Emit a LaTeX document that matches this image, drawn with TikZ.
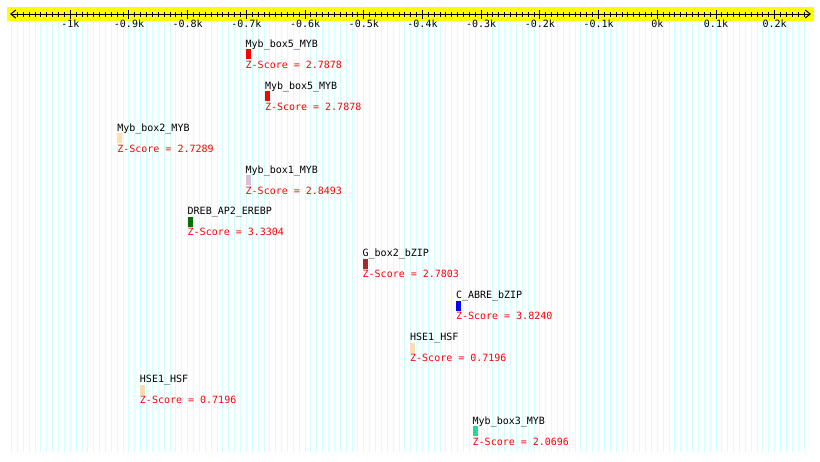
\documentclass[tikz,border=0pt]{standalone}
\usepackage{fontspec}
\setmonofont{DejaVu Sans Mono}
\usetikzlibrary{arrows.meta}
\definecolor{rulerbg}{HTML}{FFFF00}
\definecolor{gridcyan}{HTML}{D2FFFF}
\definecolor{mybred}{HTML}{FF0000}
\definecolor{mybpeach}{HTML}{FFDFAA}
\definecolor{mybthistle}{HTML}{D8C0D8}
\definecolor{drebgreen}{HTML}{007000}
\definecolor{gboxbrown}{HTML}{A52A2A}
\definecolor{abreblue}{HTML}{0000FF}
\definecolor{hsewheat}{HTML}{F5DEB3}
\definecolor{mybmint}{HTML}{20E090}
\tikzset{%
	motif/.style={inner sep=0pt,outer sep=0pt,shape=rectangle,minimum width=5pt,minimum height=10pt,anchor=north west},
	motifname/.style={inner sep=0pt,outer sep=0pt,anchor=base west,font=\ttfamily\fontsize{10}{12}\selectfont},
	zscore/.style={motifname,text=red},
	ticklabel/.style={inner sep=0pt,anchor=base,font=\ttfamily\fontsize{10}{12}\selectfont},
	gridline/.style={gridcyan,line width=1pt},
	barb/.style={line width=1pt,{Straight Barb[length=5pt,width=8pt]}-{Straight Barb[length=5pt,width=8pt]}},
}

\begin{document}
\begin{tikzpicture}[x=1pt,y=-1pt]
	\useasboundingbox (0,0) rectangle (820,461);
	
	%ravnilo
	\fill[rulerbg] (7,7) rectangle (814,21);
	\draw[barb] (10,14) -- (811,14);
	
	\begin{scope}[xshift=657.3pt,x=0.587pt]
		%mreza
		\foreach \v in {-1100,-1090,...,250}
			\draw[gridline] (\v,21) -- (\v,452);
		
		%crtice
		\foreach \v in {-1090,-1080,...,250}
			\draw[line width=1pt] (\v,11.5) -- (\v,17);
		\foreach \v/\t [count=\i] in {-1000/-1k,-900/-0.9k,-800/-0.8k,-700/-0.7k,-600/-0.6k,-500/-0.5k,-400/-0.4k,-300/-0.3k,-200/-0.2k,-100/-0.1k,0/0k,100/0.1k,200/0.2k}{
			\draw[line width=1pt] (\v,10) -- (\v,18.5);
			\node[ticklabel] (tick\i) at (\v,27.5) {\t};
		}
		
		%motivi
		\node[motif,fill=mybred] (m1) at (-701.2,49.3) {};
		\node[motifname] (n1) at ([yshift=2pt]m1.north west) {Myb\_box5\_MYB};
		\node[zscore] (z1) at ([yshift=-9pt]m1.south west) {Z-Score = 2.7878};
		
		\node[motif,fill=mybred] (m2) at (-668.3,91.2) {};
		\node[motifname] (n2) at ([yshift=2pt]m2.north west) {Myb\_box5\_MYB};
		\node[zscore] (z2) at ([yshift=-9pt]m2.south west) {Z-Score = 2.7878};
		
		\node[motif,fill=mybpeach] (m3) at (-919.9,133.1) {};
		\node[motifname] (n3) at ([yshift=2pt]m3.north west) {Myb\_box2\_MYB};
		\node[zscore] (z3) at ([yshift=-9pt]m3.south west) {Z-Score = 2.7289};
		
		\node[motif,fill=mybthistle] (m4) at (-701.2,175.0) {};
		\node[motifname] (n4) at ([yshift=2pt]m4.north west) {Myb\_box1\_MYB};
		\node[zscore] (z4) at ([yshift=-9pt]m4.south west) {Z-Score = 2.8493};
		
		\node[motif,fill=drebgreen] (m5) at (-800.0,216.9) {};
		\node[motifname] (n5) at ([yshift=2pt]m5.north west) {DREB\_AP2\_EREBP};
		\node[zscore] (z5) at ([yshift=-9pt]m5.south west) {Z-Score = 3.3304};
		
		\node[motif,fill=gboxbrown] (m6) at (-501.9,258.8) {};
		\node[motifname] (n6) at ([yshift=2pt]m6.north west) {G\_box2\_bZIP};
		\node[zscore] (z6) at ([yshift=-9pt]m6.south west) {Z-Score = 2.7803};
		
		\node[motif,fill=abreblue] (m7) at (-342.9,300.7) {};
		\node[motifname] (n7) at ([yshift=2pt]m7.north west) {C\_ABRE\_bZIP};
		\node[zscore] (z7) at ([yshift=-9pt]m7.south west) {Z-Score = 3.8240};
		
		\node[motif,fill=hsewheat] (m8) at (-421.0,342.6) {};
		\node[motifname] (n8) at ([yshift=2pt]m8.north west) {HSE1\_HSF};
		\node[zscore] (z8) at ([yshift=-9pt]m8.south west) {Z-Score = 0.7196};
		
		\node[motif,fill=hsewheat] (m9) at (-881.3,384.5) {};
		\node[motifname] (n9) at ([yshift=2pt]m9.north west) {HSE1\_HSF};
		\node[zscore] (z9) at ([yshift=-9pt]m9.south west) {Z-Score = 0.7196};
		
		\node[motif,fill=mybmint] (m10) at (-314.5,426.4) {};
		\node[motifname] (n10) at ([yshift=2pt]m10.north west) {Myb\_box3\_MYB};
		\node[zscore] (z10) at ([yshift=-9pt]m10.south west) {Z-Score = 2.0696};
	\end{scope}
\end{tikzpicture}
\end{document}
